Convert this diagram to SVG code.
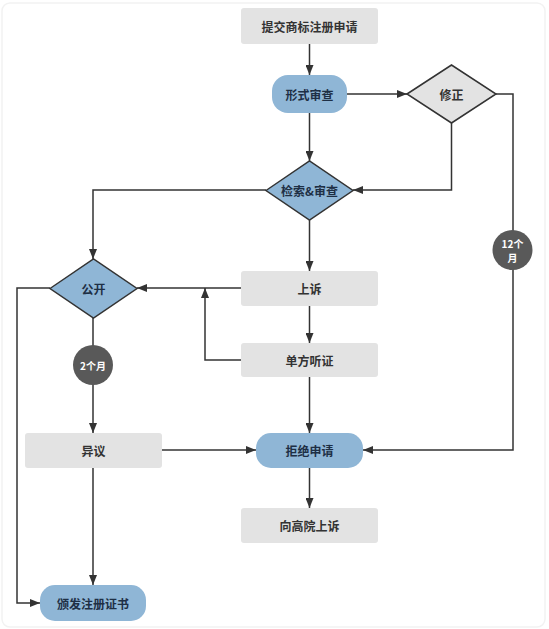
<svg xmlns="http://www.w3.org/2000/svg" width="549" height="629" viewBox="0 0 549 629">
<style>
.box{fill:#e3e3e3}
.pill{fill:#8fb6d6}
.dia{stroke:#333;stroke-width:1.5}
.t{font-family:"Noto Sans CJK SC","Noto Sans",sans-serif;font-size:12px;font-weight:600;fill:#333;text-anchor:middle;dominant-baseline:central}
.tb{fill:#1e2f45}
.ct{font-family:"Noto Sans CJK SC","Noto Sans",sans-serif;font-size:10px;font-weight:700;fill:#fff;text-anchor:middle;dominant-baseline:central}
.c{fill:none;stroke:#333;stroke-width:1.5}
</style>
<defs>
<marker id="arr" viewBox="0 0 10 8" refX="10" refY="4" markerWidth="10" markerHeight="8" markerUnits="userSpaceOnUse" orient="auto">
<path d="M0,0 L10,4 L0,8 z" fill="#333"/>
</marker>
</defs>
<rect x="2" y="3" width="543" height="624" rx="8" fill="#fff" stroke="#f2f2f2" stroke-width="1.5"/>
<g id="connectors">
<path class="c" d="M309.5,44 V75" marker-end="url(#arr)"/>
<path class="c" d="M347,94 H407" marker-end="url(#arr)"/>
<path class="c" d="M309.5,113 V161" marker-end="url(#arr)"/>
<path class="c" d="M496,94 H513 V450 H363" marker-end="url(#arr)"/>
<path class="c" d="M451.5,123 V190 H353" marker-end="url(#arr)"/>
<path class="c" d="M266,190 H93 V259" marker-end="url(#arr)"/>
<path class="c" d="M309.5,220 V271" marker-end="url(#arr)"/>
<path class="c" d="M241,288 H137" marker-end="url(#arr)"/>
<path class="c" d="M241,360 H205 V288" marker-end="url(#arr)"/>
<path class="c" d="M309.5,306 V343" marker-end="url(#arr)"/>
<path class="c" d="M309.5,377 V433" marker-end="url(#arr)"/>
<path class="c" d="M93,318 V433" marker-end="url(#arr)"/>
<path class="c" d="M50,288 H17 V603 H40" marker-end="url(#arr)"/>
<path class="c" d="M162,450 H256" marker-end="url(#arr)"/>
<path class="c" d="M93,468 V585" marker-end="url(#arr)"/>
<path class="c" d="M309.5,468 V508" marker-end="url(#arr)"/>
</g>
<g id="submit">
<rect class="box" x="241" y="8" width="137" height="36" rx="3"/>
<text class="t" x="309.5" y="26">提交商标注册申请</text>
</g>
<g id="formal">
<rect class="pill" x="272" y="75" width="75" height="38" rx="16"/>
<text class="t tb" x="309.5" y="94">形式审查</text>
</g>
<g id="fix">
<polygon class="dia" points="407,94 451.5,65 496,94 451.5,123" fill="#e3e3e3"/>
<text class="t" x="451.5" y="94">修正</text>
</g>
<g id="search">
<polygon class="dia" points="266,190.5 309.5,161 353,190.5 309.5,220" fill="#8fb6d6"/>
<text class="t tb" x="309.5" y="190.5">检索&amp;审查</text>
</g>
<g id="publish">
<polygon class="dia" points="50,288.5 93.5,259 137,288.5 93.5,318" fill="#8fb6d6"/>
<text class="t tb" x="93.5" y="288.5">公开</text>
</g>
<g id="appeal">
<rect class="box" x="241" y="271" width="137" height="35" rx="3"/>
<text class="t" x="309.5" y="288.5">上诉</text>
</g>
<g id="hearing">
<rect class="box" x="241" y="343" width="137" height="34" rx="3"/>
<text class="t" x="309.5" y="360">单方听证</text>
</g>
<g id="m2">
<circle cx="93" cy="365" r="20" fill="#595959"/>
<text class="ct" x="93" y="365">2个月</text>
</g>
<g id="m12">
<circle cx="512.5" cy="250" r="20" fill="#595959"/>
<text class="ct" x="512.5" y="243">12个</text>
<text class="ct" x="512.5" y="257">月</text>
</g>
<g id="objection">
<rect class="box" x="25" y="433" width="137" height="35" rx="3"/>
<text class="t" x="93.5" y="450.5">异议</text>
</g>
<g id="reject">
<rect class="pill" x="256" y="433" width="107" height="35" rx="15"/>
<text class="t tb" x="309.5" y="450.5">拒绝申请</text>
</g>
<g id="court">
<rect class="box" x="241" y="508" width="137" height="35" rx="3"/>
<text class="t" x="309.5" y="525.5">向高院上诉</text>
</g>
<g id="certificate">
<rect class="pill" x="40" y="585" width="106" height="36" rx="15"/>
<text class="t tb" x="93" y="603">颁发注册证书</text>
</g>
</svg>
